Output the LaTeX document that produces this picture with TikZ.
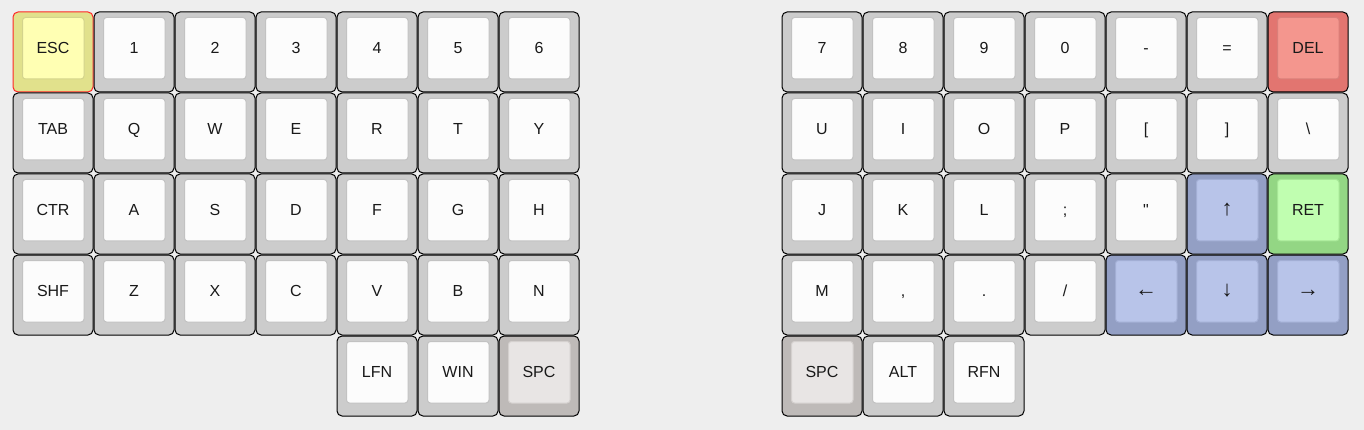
\documentclass[tikz,border=0pt]{standalone}
\usepackage{fontspec}
\setmainfont{Liberation Sans}
\definecolor{bgGray}{HTML}{EEEEEE}
\definecolor{capGray}{HTML}{CCCCCC}
\definecolor{topWhite}{HTML}{FCFCFC}
\definecolor{topEdge}{HTML}{C2C2C2}
\definecolor{escOuter}{HTML}{E1E18C}
\definecolor{escInner}{HTML}{FFFFB3}
\definecolor{escEdge}{HTML}{D4D48C}
\definecolor{delOuter}{HTML}{E27570}
\definecolor{delInner}{HTML}{F4968E}
\definecolor{delEdge}{HTML}{D97F79}
\definecolor{arrowOuter}{HTML}{939FC4}
\definecolor{arrowInner}{HTML}{B8C4E9}
\definecolor{arrowEdge}{HTML}{A2AED4}
\definecolor{retOuter}{HTML}{93D684}
\definecolor{retInner}{HTML}{C0FEB0}
\definecolor{retEdge}{HTML}{A6E696}
\definecolor{spcOuter}{HTML}{BEBAB8}
\definecolor{spcInner}{HTML}{E8E5E4}
\definecolor{spcEdge}{HTML}{D4D0CE}
\tikzset{
  keyBase/.style={
    draw=black,
    line width=1pt,
    rounded corners=5pt
  },
  keyTop/.style={
    line width=1pt,
    rounded corners=3pt
  },
  keyLabel/.style={
    font=\fontsize{16}{19}\selectfont,
    text=black!90,
    inner sep=0pt,
    text height=11.5pt,
    text depth=0pt
  },
  arrowGlyph/.style={font=\fontsize{22}{24}\selectfont},
  plain base/.style={fill=capGray},
  plain top/.style={fill=topWhite, draw=topEdge},
  esc base/.style={fill=escOuter, draw=red!85},
  esc top/.style={fill=escInner, draw=escEdge},
  del base/.style={fill=delOuter},
  del top/.style={fill=delInner, draw=delEdge},
  arrow base/.style={fill=arrowOuter},
  arrow top/.style={fill=arrowInner, draw=arrowEdge},
  ret base/.style={fill=retOuter},
  ret top/.style={fill=retInner, draw=retEdge},
  spc base/.style={fill=spcOuter},
  spc top/.style={fill=spcInner, draw=spcEdge}
}
% one key: name, column, row, label, kind
\newcommand{\keycap}[5]{%
  \draw[keyBase, #5 base] (#2*81, #3*81) rectangle ++(80,80);
  \draw[keyTop, #5 top] (#2*81+9.5, #3*81+5.5) rectangle ++(61.5,61.5);
  \node[keyLabel] (#1) at (#2*81+40, #3*81+35.5) {#4};
}
\newcommand{\arrowlab}[1]{{\fontsize{22}{24}\selectfont #1}}

\begin{document}
\begin{tikzpicture}[x=1pt, y=-1pt]
\def\pitch{81}   % key spacing
\def\rightX{782} % left edge of right half

% page and background
\fill[bgGray] (0,0) rectangle (1364,430);
\useasboundingbox (0,0) rectangle (1364,430);

% === Left half ===
\begin{scope}[shift={(13,12)}]
  \keycap{L-0-0}{0}{0}{ESC}{esc}
  \foreach \lab [count=\c] in {1,2,3,4,5,6}
    \keycap{L-0-\c}{\c}{0}{\lab}{plain};
  \foreach \lab [count=\c from 0] in {TAB,Q,W,E,R,T,Y}
    \keycap{L-1-\c}{\c}{1}{\lab}{plain};
  \foreach \lab [count=\c from 0] in {CTR,A,S,D,F,G,H}
    \keycap{L-2-\c}{\c}{2}{\lab}{plain};
  \foreach \lab [count=\c from 0] in {SHF,Z,X,C,V,B,N}
    \keycap{L-3-\c}{\c}{3}{\lab}{plain};
  % thumb cluster
  \keycap{L-4-4}{4}{4}{LFN}{plain}
  \keycap{L-4-5}{5}{4}{WIN}{plain}
  \keycap{L-4-6}{6}{4}{SPC}{spc}
\end{scope}

% === Right half ===
\begin{scope}[shift={(\rightX,12)}]
  \foreach \lab [count=\c from 0] in {7,8,9,0,-,=}
    \keycap{R-0-\c}{\c}{0}{\lab}{plain};
  \keycap{R-0-6}{6}{0}{DEL}{del}
  \foreach \lab [count=\c from 0] in {U,I,O,P,{[},{]},\textbackslash}
    \keycap{R-1-\c}{\c}{1}{\lab}{plain};
  \foreach \lab [count=\c from 0] in {J,K,L,;,\textquotedbl}
    \keycap{R-2-\c}{\c}{2}{\lab}{plain};
  \keycap{R-2-5}{5}{2}{\arrowlab{↑}}{arrow}
  \keycap{R-2-6}{6}{2}{RET}{ret}
  \foreach \lab [count=\c from 0] in {M,{,},.,/}
    \keycap{R-3-\c}{\c}{3}{\lab}{plain};
  \keycap{R-3-4}{4}{3}{\arrowlab{←}}{arrow}
  \keycap{R-3-5}{5}{3}{\arrowlab{↓}}{arrow}
  \keycap{R-3-6}{6}{3}{\arrowlab{→}}{arrow}
  % thumb cluster
  \keycap{R-4-0}{0}{4}{SPC}{spc}
  \keycap{R-4-1}{1}{4}{ALT}{plain}
  \keycap{R-4-2}{2}{4}{RFN}{plain}
\end{scope}

\end{tikzpicture}
\end{document}
